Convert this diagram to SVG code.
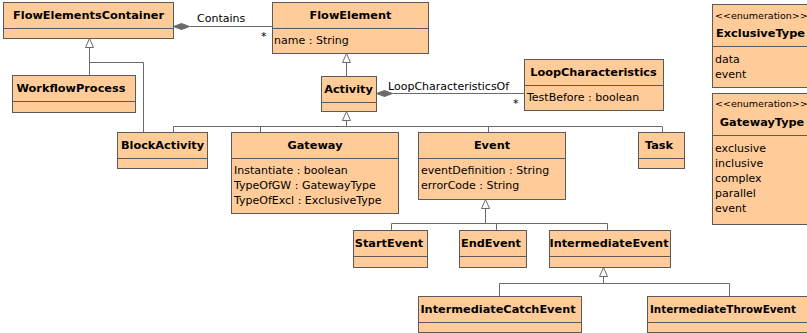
<svg xmlns="http://www.w3.org/2000/svg" width="807" height="333" viewBox="0 0 807 333">
  <style>
    .box { fill: #FFCC99; stroke: #5a5a5a; stroke-width: 1; }
    .sep { stroke: #5a5a5a; stroke-width: 1; }
    .name { font-family: "DejaVu Sans", Verdana, sans-serif; font-weight: bold; font-size: 11.3px; fill: #000; text-anchor: middle; }
    .attr { font-family: "DejaVu Sans", Verdana, sans-serif; font-size: 11px; fill: #000; }
    .stereo { font-family: "DejaVu Sans", Verdana, sans-serif; font-size: 9.5px; fill: #000; }
    .lbl { font-family: "DejaVu Sans", Verdana, sans-serif; font-size: 11px; fill: #000; }
    .line { fill: none; stroke: #6a6a6a; stroke-width: 1; }
    .tri { fill: #fff; stroke: #6a6a6a; stroke-width: 1; }
    .dia { fill: #6a6a6a; stroke: #6a6a6a; stroke-width: 1; }
  </style>
  <rect width="807" height="333" fill="#fff"/>

  <!-- connectors -->
  <g id="connectors">
    <!-- Contains composition -->
    <polygon class="dia" points="173.5,26.5 181.5,23.5 189.5,26.5 181.5,29.5"/>
    <line class="line" x1="189.5" y1="26.5" x2="272.5" y2="26.5"/>
    <text class="lbl" x="197" y="22">Contains</text>
    <text class="lbl" x="261" y="40">*</text>

    <!-- WorkflowProcess / BlockActivity generalize FlowElementsContainer -->
    <polyline class="line" points="89.5,75.5 89.5,47.5"/>
    <polyline class="line" points="89.5,62.5 143.5,62.5 143.5,132.5"/>
    <polygon class="tri" points="89.5,38.5 85.5,47.5 93.5,47.5"/>

    <!-- Activity generalizes FlowElement -->
    <line class="line" x1="346.5" y1="76.5" x2="346.5" y2="62.5"/>
    <polygon class="tri" points="346.5,53.5 342.5,62.5 350.5,62.5"/>

    <!-- LoopCharacteristicsOf composition -->
    <polygon class="dia" points="376.5,93.5 384.5,90.5 392.5,93.5 384.5,96.5"/>
    <line class="line" x1="392.5" y1="93.5" x2="524.5" y2="93.5"/>
    <text class="lbl" x="388" y="90">LoopCharacteristicsOf</text>
    <text class="lbl" x="513" y="107">*</text>

    <!-- Activity subclasses -->
    <polygon class="tri" points="346.5,111.5 342.5,120.5 350.5,120.5"/>
    <line class="line" x1="346.5" y1="120.5" x2="346.5" y2="126.5"/>
    <line class="line" x1="173.5" y1="126.5" x2="662.5" y2="126.5"/>
    <line class="line" x1="173.5" y1="126.5" x2="173.5" y2="132.5"/>
    <line class="line" x1="260.5" y1="126.5" x2="260.5" y2="132.5"/>
    <line class="line" x1="488.5" y1="126.5" x2="488.5" y2="132.5"/>
    <line class="line" x1="662.5" y1="126.5" x2="662.5" y2="132.5"/>

    <!-- Event subclasses -->
    <polygon class="tri" points="485.5,199.5 481.5,208.5 489.5,208.5"/>
    <line class="line" x1="485.5" y1="208.5" x2="485.5" y2="223.5"/>
    <line class="line" x1="391.5" y1="223.5" x2="607.5" y2="223.5"/>
    <line class="line" x1="391.5" y1="223.5" x2="391.5" y2="230.5"/>
    <line class="line" x1="496.5" y1="223.5" x2="496.5" y2="230.5"/>
    <line class="line" x1="607.5" y1="223.5" x2="607.5" y2="230.5"/>

    <!-- IntermediateEvent subclasses -->
    <polygon class="tri" points="603.5,267.5 599.5,276.5 607.5,276.5"/>
    <line class="line" x1="603.5" y1="276.5" x2="603.5" y2="283.5"/>
    <line class="line" x1="499.5" y1="283.5" x2="729.5" y2="283.5"/>
    <line class="line" x1="499.5" y1="283.5" x2="499.5" y2="296.5"/>
    <line class="line" x1="729.5" y1="283.5" x2="729.5" y2="296.5"/>
  </g>

  <g id="FlowElementsContainer">
    <rect class="box" x="3.5" y="2.5" width="170" height="36"/>
    <line class="sep" x1="3.5" y1="28.5" x2="173.5" y2="28.5"/>
    <text class="name" x="88.5" y="19">FlowElementsContainer</text>
  </g>

  <g id="WorkflowProcess">
    <rect class="box" x="12.5" y="75.5" width="123" height="37"/>
    <line class="sep" x1="12.5" y1="101.5" x2="135.5" y2="101.5"/>
    <text class="name" x="71" y="92">WorkflowProcess</text>
  </g>

  <g id="FlowElement">
    <rect class="box" x="272.5" y="2.5" width="156" height="51"/>
    <line class="sep" x1="272.5" y1="28.5" x2="428.5" y2="28.5"/>
    <text class="name" x="350.5" y="19">FlowElement</text>
    <text class="attr" x="274" y="44">name : String</text>
  </g>

  <g id="Activity">
    <rect class="box" x="321.5" y="76.5" width="55" height="35"/>
    <line class="sep" x1="321.5" y1="102.5" x2="376.5" y2="102.5"/>
    <text class="name" x="348.5" y="93">Activity</text>
  </g>

  <g id="LoopCharacteristics">
    <rect class="box" x="524.5" y="59.5" width="139" height="51"/>
    <line class="sep" x1="524.5" y1="85.5" x2="663.5" y2="85.5"/>
    <text class="name" x="593.5" y="76">LoopCharacteristics</text>
    <text class="attr" x="527" y="101">TestBefore : boolean</text>
  </g>

  <g id="ExclusiveType">
    <rect class="box" x="712.5" y="4.5" width="112" height="83"/>
    <line class="sep" x1="712.5" y1="46.5" x2="824.5" y2="46.5"/>
    <text class="stereo" x="715" y="19">&lt;&lt;enumeration&gt;&gt;</text>
    <text class="name" x="716" y="37" style="text-anchor:start" textLength="89" lengthAdjust="spacingAndGlyphs">ExclusiveType</text>
    <text class="attr" x="715" y="63">data</text>
    <text class="attr" x="715" y="78">event</text>
  </g>

  <g id="GatewayType">
    <rect class="box" x="712.5" y="93.5" width="112" height="131"/>
    <line class="sep" x1="712.5" y1="135.5" x2="824.5" y2="135.5"/>
    <text class="stereo" x="715" y="107">&lt;&lt;enumeration&gt;&gt;</text>
    <text class="name" x="762" y="126">GatewayType</text>
    <text class="attr" x="715" y="152">exclusive</text>
    <text class="attr" x="715" y="167">inclusive</text>
    <text class="attr" x="715" y="182">complex</text>
    <text class="attr" x="715" y="197">parallel</text>
    <text class="attr" x="715" y="212">event</text>
  </g>

  <g id="BlockActivity">
    <rect class="box" x="117.5" y="132.5" width="90" height="36"/>
    <line class="sep" x1="117.5" y1="158.5" x2="207.5" y2="158.5"/>
    <text class="name" x="162.5" y="149">BlockActivity</text>
  </g>

  <g id="Gateway">
    <rect class="box" x="231.5" y="132.5" width="167" height="81"/>
    <line class="sep" x1="231.5" y1="158.5" x2="398.5" y2="158.5"/>
    <text class="name" x="315" y="149">Gateway</text>
    <text class="attr" x="234" y="174">Instantiate : boolean</text>
    <text class="attr" x="234" y="189">TypeOfGW : GatewayType</text>
    <text class="attr" x="234" y="204">TypeOfExcl : ExclusiveType</text>
  </g>

  <g id="Event">
    <rect class="box" x="418.5" y="132.5" width="147" height="67"/>
    <line class="sep" x1="418.5" y1="158.5" x2="565.5" y2="158.5"/>
    <text class="name" x="492" y="149">Event</text>
    <text class="attr" x="421" y="174">eventDefinition : String</text>
    <text class="attr" x="421" y="189">errorCode : String</text>
  </g>

  <g id="Task">
    <rect class="box" x="638.5" y="132.5" width="46" height="36"/>
    <line class="sep" x1="638.5" y1="158.5" x2="684.5" y2="158.5"/>
    <text class="name" x="659" y="149">Task</text>
  </g>

  <g id="StartEvent">
    <rect class="box" x="353.5" y="230.5" width="74" height="37"/>
    <line class="sep" x1="353.5" y1="256.5" x2="427.5" y2="256.5"/>
    <text class="name" x="389" y="247">StartEvent</text>
  </g>

  <g id="EndEvent">
    <rect class="box" x="459.5" y="230.5" width="67" height="37"/>
    <line class="sep" x1="459.5" y1="256.5" x2="526.5" y2="256.5"/>
    <text class="name" x="491" y="247">EndEvent</text>
  </g>

  <g id="IntermediateEvent">
    <rect class="box" x="549.5" y="230.5" width="121" height="37"/>
    <line class="sep" x1="549.5" y1="256.5" x2="670.5" y2="256.5"/>
    <text class="name" x="609" y="247">IntermediateEvent</text>
  </g>

  <g id="IntermediateCatchEvent">
    <rect class="box" x="418.5" y="296.5" width="163" height="36"/>
    <line class="sep" x1="418.5" y1="322.5" x2="581.5" y2="322.5"/>
    <text class="name" x="498" y="313">IntermediateCatchEvent</text>
  </g>

  <g id="IntermediateThrowEvent">
    <rect class="box" x="647.5" y="296.5" width="175" height="36"/>
    <line class="sep" x1="647.5" y1="322.5" x2="822.5" y2="322.5"/>
    <text class="name" x="650" y="313" style="text-anchor:start; font-size:10.4px">IntermediateThrowEvent</text>
  </g>
</svg>
